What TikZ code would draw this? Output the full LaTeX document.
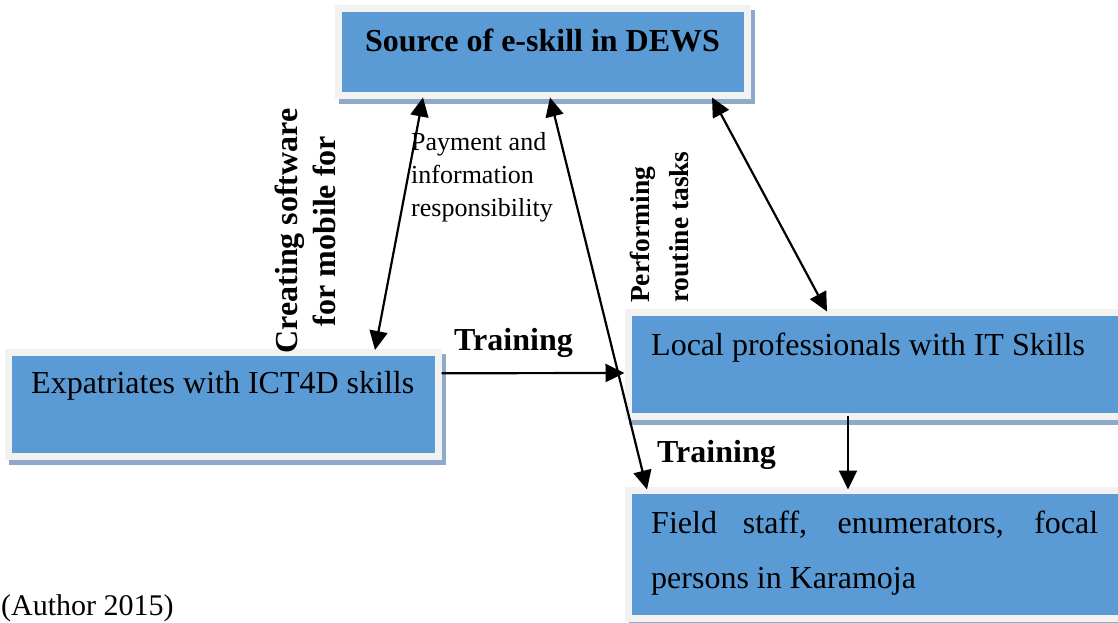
\documentclass[tikz,border=0pt]{standalone}
\usepackage{fontspec}
\setmainfont{Liberation Serif}
\usetikzlibrary{arrows.meta,backgrounds}
\definecolor{boxblue}{HTML}{5B9BD5}
\definecolor{framegray}{HTML}{F2F2F2}
\definecolor{shadowblue}{HTML}{8FAAC8}
\begin{document}
\begin{tikzpicture}[x=1pt,y=-1pt,
  box/.style={rectangle, fill=boxblue, draw=framegray, line width=7pt, inner sep=0pt},
  tip/.tip={Triangle[length=19pt,width=18pt]},
  link/.style={line width=2.2pt, -tip},
  twoway/.style={line width=2.2pt, tip-tip},
  txt/.style={inner sep=0pt, font=\fontsize{32}{38}\selectfont},
  boldtxt/.style={inner sep=0pt, font=\fontsize{32}{38}\selectfont\bfseries},
  smalltxt/.style={inner sep=0pt, font=\fontsize{26}{33}\selectfont},
  sidetxt/.style={inner sep=0pt, font=\fontsize{27.5}{39}\selectfont\bfseries}
]
\useasboundingbox (0,0) rectangle (1118,623);

% boxes
\node[box, minimum width=409pt, minimum height=87.5pt]  (src)   at (542.5,52.25) {};
\node[box, minimum width=430pt, minimum height=103.5pt] (expat) at (223,404.25) {};
\node[box, minimum width=497pt, minimum height=104pt]   (local) at (876.5,364) {};
\node[box, minimum width=497pt, minimum height=128pt]   (field) at (876.5,554) {};

% flat offset shadows behind the boxes
\begin{scope}[on background layer]
  \foreach \b in {src,expat,local,field}
    \fill[shadowblue] ([shift={(4pt,-5pt)}]\b.south west) rectangle ([shift={(4pt,-5pt)}]\b.north east);
\end{scope}

% box texts
\node[boldtxt, anchor=base] (srctext) at (542.5,52) {Source of e-skill in DEWS};
\node[txt, anchor=base west] (expattext) at (31,393) {Expatriates with ICT4D skills};
\node[txt, anchor=base west] (localtext) at (651,355) {Local professionals with IT Skills};
\node[txt, anchor=base west] (fieldtextA) at (651,533) {\makebox[447pt][s]{Field staff, enumerators, focal}};
\node[txt, anchor=base west] (fieldtextB) at (651,588) {persons in Karamoja};

% connectors
\draw[twoway] ([xshift=88.5pt,yshift=2pt]src.south west) -- ([xshift=370.5pt,yshift=-1pt]expat.north west);
\draw[twoway] ([xshift=215.5pt,yshift=2pt]src.south west) -- ([xshift=22.5pt,yshift=-3pt]field.north west);
\draw[twoway] ([xshift=377.5pt,yshift=2pt]src.south west) -- ([xshift=202.5pt,yshift=-3pt]local.north west);
\draw[link] ([yshift=31pt]expat.east) -- ([yshift=-9pt]local.west);
\draw[link] ([xshift=223.5pt,yshift=4pt]local.south west) -- ([xshift=223.5pt,yshift=-3pt]field.north west);

% connector labels
\node[boldtxt, anchor=base] (train1) at (513.5,350) {Training};
\node[boldtxt, anchor=base] (train2) at (716.5,462) {Training};
\node[smalltxt, align=left, anchor=north west] (paylabel) at (411,132.2)
  {Payment and\\information\\responsibility};
\node[boldtxt, rotate=90, align=center] (softlabel) at (305.5,231)
  {Creating software\\for mobile for};
\node[sidetxt, rotate=90, align=left, anchor=south west] (tasklabel) at (689,303)
  {Performing\\routine tasks};

% source note
\node[inner sep=0pt, font=\fontsize{30}{36}\selectfont, anchor=base west] (source) at (1,615) {(Author 2015)};
\end{tikzpicture}
\end{document}
